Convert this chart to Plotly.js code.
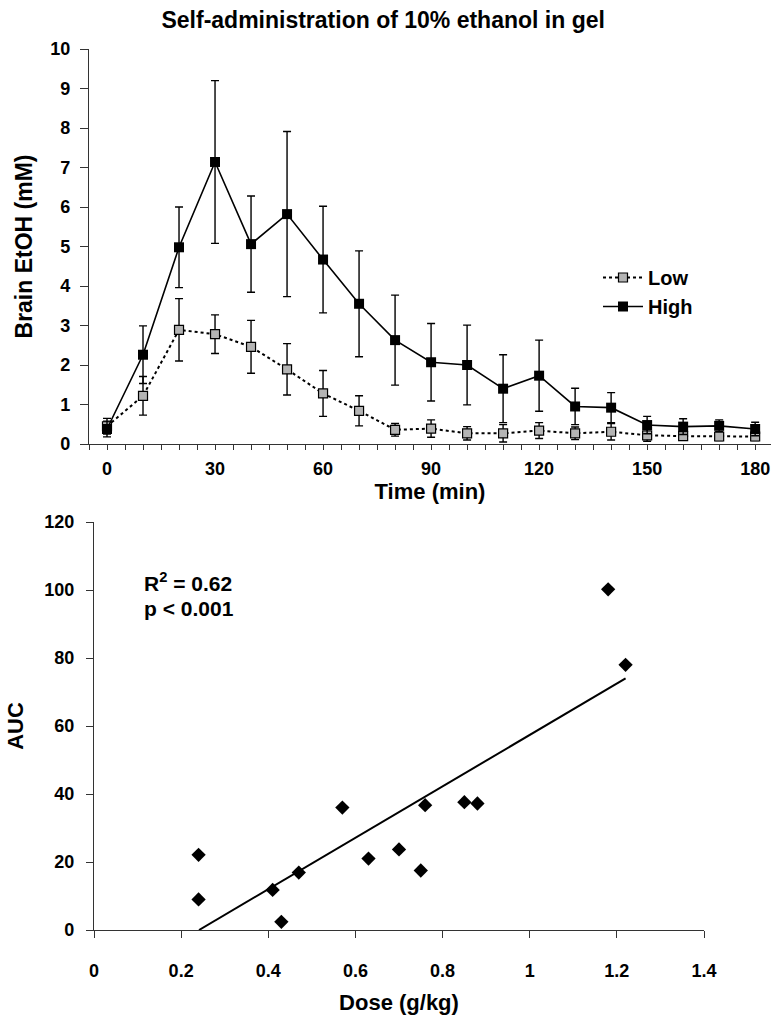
<!DOCTYPE html>
<html>
<head>
<meta charset="utf-8">
<script src="https://cdn.plot.ly/plotly-3.0.1.min.js"></script>
<style>html,body{margin:0;padding:0;background:#fff;}#chart{width:782px;height:1022px;}</style>
</head>
<body>
<div id="chart"></div>
<script>
// ---------- Top panel data: brain EtOH over time ----------
var timeMin = [0, 10, 20, 30, 40, 50, 60, 70, 80, 90, 100, 110, 120, 130, 140, 150, 160, 170, 180];
var lowMean = [0.45, 1.22, 2.89, 2.78, 2.46, 1.89, 1.28, 0.84, 0.36, 0.39, 0.27, 0.27, 0.34, 0.27, 0.31, 0.22, 0.20, 0.19, 0.19];
var lowErr  = [0.20, 0.49, 0.79, 0.49, 0.67, 0.65, 0.58, 0.38, 0.16, 0.22, 0.17, 0.22, 0.20, 0.16, 0.21, 0.15, 0.10, 0.10, 0.10];
var highMean = [0.38, 2.26, 4.98, 7.14, 5.06, 5.82, 4.67, 3.55, 2.63, 2.07, 2.00, 1.40, 1.73, 0.95, 0.92, 0.48, 0.44, 0.46, 0.38];
var highErr  = [0.20, 0.73, 1.02, 2.06, 1.22, 2.09, 1.35, 1.34, 1.14, 0.98, 1.01, 0.86, 0.90, 0.46, 0.38, 0.22, 0.20, 0.15, 0.17];

var timeTickVals = [0, 30, 60, 90, 120, 150, 180];
var timeTickText = ['0', '30', '60', '90', '120', '150', '180'];
var concTickVals = [0, 1, 2, 3, 4, 5, 6, 7, 8, 9, 10];
var concTickText = ['0', '1', '2', '3', '4', '5', '6', '7', '8', '9', '10'];

// ---------- Bottom panel data: AUC vs dose ----------
var dose = [0.24, 0.24, 0.41, 0.43, 0.47, 0.57, 0.63, 0.70, 0.75, 0.76, 0.85, 0.88, 1.18, 1.22];
var auc  = [22.1, 9.0, 11.8, 2.4, 16.9, 36.0, 21.0, 23.7, 17.5, 36.7, 37.6, 37.2, 100.2, 78.0];
var doseTickVals = [0, 0.2, 0.4, 0.6, 0.8, 1, 1.2, 1.4];
var doseTickText = ['0', '0.2', '0.4', '0.6', '0.8', '1', '1.2', '1.4'];
var aucTickVals = [0, 20, 40, 60, 80, 100, 120];
var aucTickText = ['0', '20', '40', '60', '80', '100', '120'];
var statsText = ['R<sup>2</sup> = 0.62', 'p &lt; 0.001'];

// least-squares fit computed from the data
function linfit(xs, ys) {
  var n = xs.length, mx = 0, my = 0;
  for (var i = 0; i < n; i++) { mx += xs[i]; my += ys[i]; }
  mx /= n; my /= n;
  var sxy = 0, sxx = 0;
  for (var j = 0; j < n; j++) { sxy += (xs[j] - mx) * (ys[j] - my); sxx += (xs[j] - mx) * (xs[j] - mx); }
  var b = sxy / sxx;
  return { slope: b, intercept: my - b * mx };
}
var fit = linfit(dose, auc);
var fitX0 = Math.max(Math.min.apply(null, dose), -fit.intercept / fit.slope);
var fitX1 = Math.max.apply(null, dose);
var fitX = [fitX0, fitX1];
var fitY = fitX.map(function (x) { return fit.intercept + fit.slope * x; });

var FONT = 'Liberation Sans, Arial, sans-serif';
var AX = '#333333';
function bold(t) { return '<b>' + t + '</b>'; }

var traces = [
  {
    x: timeMin, y: lowMean, name: 'Low', type: 'scatter', mode: 'lines+markers',
    xaxis: 'x', yaxis: 'y',
    line: { color: '#000', width: 2, dash: 'dot' },
    marker: { symbol: 'square', size: 9, color: '#b4b4b4', line: { color: '#000', width: 1.2 } },
    error_y: { type: 'data', array: lowErr, visible: true, color: '#000', thickness: 1.4, width: 4 }
  },
  {
    x: timeMin, y: highMean, name: 'High', type: 'scatter', mode: 'lines+markers',
    xaxis: 'x', yaxis: 'y',
    line: { color: '#000', width: 1.6 },
    marker: { symbol: 'square', size: 10, color: '#000' },
    error_y: { type: 'data', array: highErr, visible: true, color: '#000', thickness: 1.4, width: 4 }
  },
  {
    x: dose, y: auc, type: 'scatter', mode: 'markers', showlegend: false,
    xaxis: 'x2', yaxis: 'y2',
    marker: { symbol: 'diamond', size: 11, color: '#000' }
  },
  {
    x: fitX, y: fitY, type: 'scatter', mode: 'lines', showlegend: false,
    xaxis: 'x2', yaxis: 'y2',
    line: { color: '#000', width: 2 }
  }
];

var tickFont = { family: FONT, size: 18, color: '#000', weight: 'bold' };
var titleFont = { family: FONT, size: 22, color: '#000', weight: 'bold' };

var layout = {
  width: 782, height: 1022,
  margin: { l: 0, r: 0, t: 0, b: 0 },
  paper_bgcolor: '#fff', plot_bgcolor: '#fff',
  font: { family: FONT, color: '#000', weight: 'bold' },
  title: {
    text: 'Self-administration of 10% ethanol in gel',
    font: { family: FONT, size: 23, color: '#000', weight: 'bold' },
    x: 0.49, xanchor: 'center', xref: 'paper',
    y: 1 - 20 / 1022, yanchor: 'middle', yref: 'paper'
  },
  showlegend: true,
  legend: {
    x: 598 / 782, xanchor: 'left', y: 1 - 258 / 1022, yanchor: 'top',
    font: { family: FONT, size: 20, color: '#000', weight: 'bold' },
    bgcolor: 'rgba(0,0,0,0)', borderwidth: 0, tracegroupgap: 0, itemwidth: 40
  },
  xaxis: {
    domain: [89 / 782, 771 / 782], anchor: 'y', range: [-5, 184.4],
    tickmode: 'array', tickvals: timeTickVals, ticktext: timeTickText.map(bold),
    ticks: 'outside', ticklen: 5, tickwidth: 1, tickcolor: AX,
    minor: { ticks: 'outside', ticklen: 5, tickwidth: 1, tickcolor: AX, tick0: 0, dtick: 5, showgrid: false },
    showline: true, linecolor: AX, linewidth: 1.2,
    showgrid: false, zeroline: false, tickfont: tickFont, ticklabelstandoff: 3,
    title: { text: '<b>Time (min)</b>', font: titleFont, standoff: 1 }
  },
  xaxis3: {
    domain: [89 / 782, 771 / 782], anchor: 'y', overlaying: 'x', range: [-5, 184.4],
    tickmode: 'array', tickvals: timeTickVals,
    ticks: 'inside', ticklen: 5, tickwidth: 1, tickcolor: AX,
    minor: { ticks: 'inside', ticklen: 5, tickwidth: 1, tickcolor: AX, tick0: 0, dtick: 5, showgrid: false },
    showline: false, showgrid: false, zeroline: false, showticklabels: false
  },
  yaxis: {
    domain: [(1022 - 444) / 1022, (1022 - 49) / 1022], anchor: 'x', range: [0, 10],
    tickmode: 'array', tickvals: concTickVals, ticktext: concTickText.map(bold),
    ticks: 'outside', ticklen: 8, tickwidth: 1, tickcolor: AX,
    showline: true, linecolor: AX, linewidth: 1.2,
    showgrid: false, zeroline: false, tickfont: tickFont, ticklabelstandoff: 6,
    title: { text: '<b>Brain EtOH (mM)</b>', font: { family: FONT, size: 23, color: '#000', weight: 'bold' }, standoff: 11 }
  },
  xaxis2: {
    domain: [94 / 782, 704 / 782], anchor: 'y2', range: [0, 1.4],
    tickmode: 'array', tickvals: doseTickVals, ticktext: doseTickText.map(bold),
    ticks: 'outside', ticklen: 7, tickwidth: 1, tickcolor: AX,
    showline: true, linecolor: AX, linewidth: 1.2,
    showgrid: false, zeroline: false, tickfont: tickFont, ticklabelstandoff: 17,
    title: { text: '<b>Dose (g/kg)</b>', font: titleFont, standoff: 14 }
  },
  xaxis4: {
    domain: [94 / 782, 704 / 782], anchor: 'y2', overlaying: 'x2', range: [0, 1.4],
    tickmode: 'array', tickvals: doseTickVals,
    ticks: 'inside', ticklen: 7, tickwidth: 1, tickcolor: AX,
    showline: false, showgrid: false, zeroline: false, showticklabels: false
  },
  yaxis2: {
    domain: [(1022 - 930) / 1022, (1022 - 522) / 1022], anchor: 'x2', range: [0, 120],
    tickmode: 'array', tickvals: aucTickVals, ticktext: aucTickText.map(bold),
    ticks: 'outside', ticklen: 7, tickwidth: 1, tickcolor: AX,
    showline: true, linecolor: AX, linewidth: 1.2,
    showgrid: false, zeroline: false, tickfont: tickFont, ticklabelstandoff: 8,
    title: { text: '<b>AUC</b>', font: titleFont, standoff: 14 }
  },
  annotations: [
    {
      text: '<b>' + statsText[0] + '</b>', xref: 'paper', yref: 'paper',
      x: 142 / 782, xanchor: 'left', y: 1 - 582 / 1022, yanchor: 'middle',
      showarrow: false, font: { family: FONT, size: 21, color: '#000', weight: 'bold' }
    },
    {
      text: '<b>' + statsText[1] + '</b>', xref: 'paper', yref: 'paper',
      x: 142 / 782, xanchor: 'left', y: 1 - 608 / 1022, yanchor: 'middle',
      showarrow: false, font: { family: FONT, size: 21, color: '#000', weight: 'bold' }
    }
  ]
};

Plotly.newPlot('chart', traces, layout, { staticPlot: true, displayModeBar: false });
</script>
</body>
</html>
